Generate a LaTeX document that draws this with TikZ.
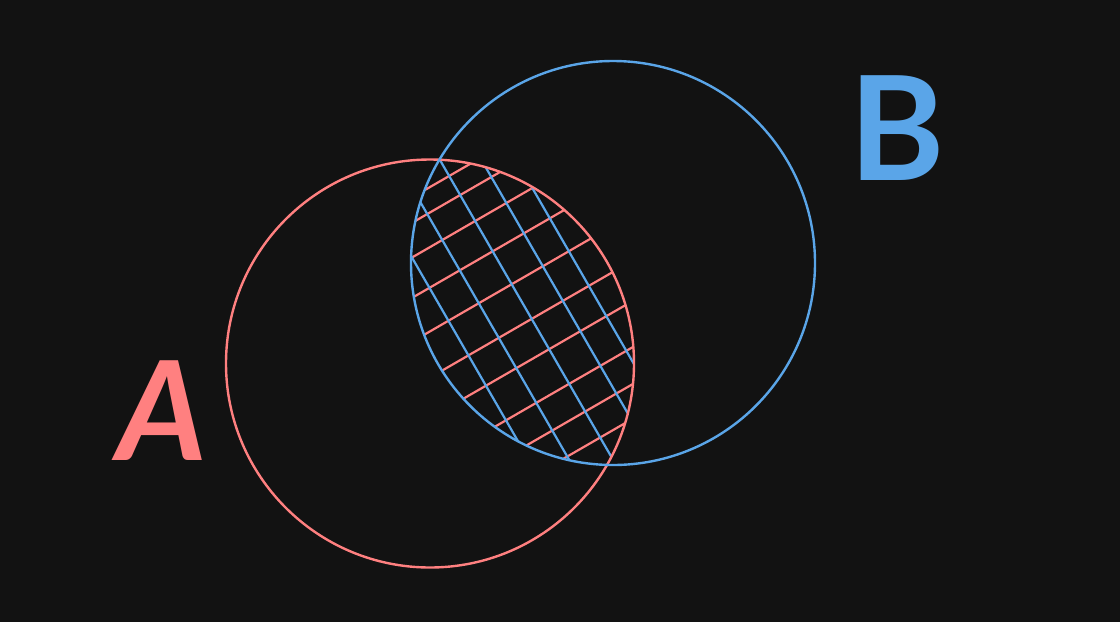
\documentclass[tikz,border=0pt]{standalone}
\usepackage{fontspec}
\newfontfamily\labfont{Lato}
\definecolor{bg}{HTML}{121212}
\definecolor{cred}{HTML}{FF8080}
\definecolor{cblue}{HTML}{5AA5E8}
\tikzset{
  ring/.style={line width=2.4pt},
  hatch/.style={line width=2.2pt},
  biglabel/.style={inner sep=0pt, font=\labfont\bfseries\fontsize{145}{145}\selectfont}
}
\begin{document}
\begin{tikzpicture}[x=1pt,y=1pt]
\fill[bg] (0,0) rectangle (1120,-622);
\useasboundingbox (0,0) rectangle (1120,-622);
\coordinate (ca) at (430,-363.5);
\coordinate (cb) at (613,-263);
\begin{scope}
  \clip (ca) circle[radius=204];
  \clip (cb) circle[radius=202];
  \foreach \d in {377,399,429,464,502,542,577,617,649,679}
    \draw[cred,hatch] ({\d*0.5-866},{-\d*0.866-500}) -- ({\d*0.5+866},{-\d*0.866+500});
  \foreach \d in {228,263,301,337,367}
    \draw[cblue,hatch] ({\d*0.866-500},{\d*0.5+866}) -- ({\d*0.866+500},{\d*0.5-866});
\end{scope}
\draw[cred,ring] (ca) circle[radius=204];
\draw[cblue,ring] (cb) circle[radius=202];
\node[biglabel, text=cred, font=\labfont\bfseries\itshape\fontsize{138}{138}\selectfont] (la) at (162,-411) {A};
\node[biglabel, text=cblue] (lb) at (897.5,-128.5) {B};
\end{tikzpicture}
\end{document}
